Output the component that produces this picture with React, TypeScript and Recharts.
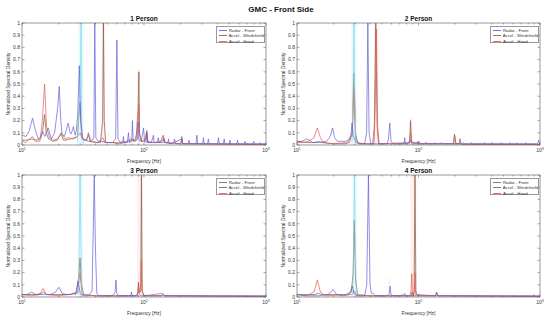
import React from 'react';
import { LineChart, Line, XAxis, YAxis, ReferenceArea } from 'recharts';

type Pt = [number, number];

// log x ticks: majors get labels, minors are just inward marks
const xTicks = [10, 20, 30, 40, 50, 60, 70, 80, 90, 100, 200, 300, 400, 500, 600, 700, 800, 900, 1000];
const xMajor = [10, 100, 1000];
const yTicks = [0, 0.1, 0.2, 0.3, 0.4, 0.5, 0.6, 0.7, 0.8, 0.9, 1];

const seriesNames = ['Radar - Front', 'Accel - Windshield', 'Accel - Hood'];
const panelTitles = ['1 Person', '2 Person', '3 Person', '4 Person'];

// ---- 1 Person ----
const radar1: Pt[] = [
  [10, 0.08], [10.8, 0.07], [11.5, 0.12], [12.2, 0.22], [12.8, 0.13], [13.6, 0.05], [14.3, 0.07], [14.8, 0.11],
  [15.4, 0.07], [16.4, 0.14], [17.4, 0.05], [18.5, 0.1], [19.6, 0.3], [20.2, 0.48], [20.8, 0.2], [21.3, 0.09],
  [22.3, 0.07], [23.9, 0.18], [24.8, 0.1], [25.3, 0.09], [26.4, 0.15], [27.3, 0.08], [27.9, 0.12], [28.6, 0.25],
  [29.5, 0.65], [30.3, 0.2], [31.5, 0.05], [33, 0.04], [35, 0.03], [37, 0.03], [38.8, 0.06], [39.5, 1.0],
  [40.3, 0.06], [42, 0.03], [45, 0.03], [50, 0.02], [55, 0.02], [58.6, 0.05], [59.9, 0.86], [61.2, 0.05],
  [64, 0.02], [67, 0.02], [67.8, 0.07], [68.6, 0.02], [73, 0.02], [74.6, 0.1], [76, 0.02], [79.4, 0.03],
  [80.4, 0.2], [81.5, 0.03], [85, 0.03], [88.5, 0.05], [89.6, 0.19], [90.8, 0.04], [95, 0.03], [99.2, 0.14],
  [101, 0.03], [104, 0.02], [105.5, 0.1], [107, 0.02], [115, 0.02], [119.5, 0.08], [121, 0.02], [129, 0.02],
  [131, 0.06], [133, 0.02], [143, 0.02], [145, 0.05], [147, 0.02], [157, 0.02], [159, 0.05], [161, 0.01],
  [175, 0.02], [178, 0.05], [181, 0.01], [201, 0.01], [204, 0.07], [207, 0.01], [230, 0.01], [234, 0.04],
  [238, 0.01], [267, 0.01], [271, 0.08], [275, 0.01], [303, 0.01], [307, 0.06], [311, 0.01], [332, 0.01],
  [337, 0.05], [342, 0.01], [402, 0.01], [408, 0.06], [414, 0.01], [448, 0.01], [454, 0.05], [460, 0.01],
  [500, 0.01], [506, 0.04], [512, 0.01], [577, 0.01], [584, 0.04], [591, 0.01], [665, 0.01], [674, 0.03],
  [683, 0.01], [782, 0.01], [792, 0.03], [802, 0.01], [885, 0.01], [897, 0.02], [910, 0.01], [1000, 0.01],
];
const wind1: Pt[] = [
  [10, 0.04], [11, 0.04], [12, 0.05], [13, 0.04], [14.2, 0.05], [14.8, 0.12], [15.3, 0.25], [15.8, 0.1],
  [16.5, 0.05], [18, 0.03], [19.5, 0.04], [20.9, 0.1], [21.8, 0.04], [23, 0.04], [25, 0.05], [27, 0.06],
  [28.5, 0.07], [29.8, 0.35], [30.8, 0.08], [32, 0.04], [34, 0.04], [35, 0.1], [36, 0.03], [40, 0.02],
  [44, 0.02], [45.8, 0.2], [46.5, 1.0], [47.2, 0.2], [48.5, 0.02], [55, 0.02], [62, 0.01], [70, 0.02],
  [75, 0.03], [80, 0.04], [86, 0.04], [89.5, 0.3], [90.8, 0.6], [92, 0.1], [95, 0.03], [102, 0.03],
  [105, 0.11], [108, 0.02], [120, 0.02], [135, 0.02], [144, 0.08], [148, 0.02], [170, 0.01], [204, 0.05],
  [208, 0.01], [250, 0.01], [1000, 0.005],
];
const hood1: Pt[] = [
  [10, 0.03], [10.8, 0.02], [11.5, 0.05], [12.2, 0.07], [12.9, 0.03], [14, 0.03], [14.7, 0.2], [15.3, 0.5],
  [15.9, 0.15], [16.8, 0.06], [18, 0.04], [19.5, 0.05], [21, 0.09], [22.5, 0.05], [24, 0.06], [26, 0.05],
  [28, 0.06], [30, 0.1], [31, 0.05], [33, 0.04], [35.5, 0.08], [37, 0.03], [42, 0.02], [46, 0.06],
  [48, 0.02], [60, 0.02], [72, 0.03], [78, 0.05], [84, 0.04], [89, 0.12], [90.5, 0.33], [92, 0.08],
  [96, 0.03], [104, 0.06], [105.5, 0.12], [107, 0.03], [120, 0.02], [140, 0.03], [145, 0.06], [150, 0.02],
  [200, 0.01], [204, 0.05], [208, 0.01], [1000, 0.005],
];
const cyan1: Pt[] = [[28.5, 0.02], [30.2, 0.6], [30.5, 1.0], [30.9, 0.1], [32, 0.01]];

// ---- 2 Person ----
const radar2: Pt[] = [
  [10, 0.03], [11, 0.03], [11.5, 0.04], [12, 0.05], [12.6, 0.04], [13.5, 0.02], [15, 0.02], [17.5, 0.03],
  [18.8, 0.07], [19.6, 0.14], [20.4, 0.06], [21.5, 0.03], [23, 0.03], [25, 0.03], [26.5, 0.04], [27.8, 0.08],
  [28.4, 0.18], [29, 0.08], [30.5, 0.02], [33, 0.01], [36, 0.01], [37.4, 0.1], [38.3, 1.0], [39.2, 0.1],
  [40.5, 0.01], [45, 0.01], [50, 0.01], [55, 0.01], [56.5, 0.04], [58, 0.18], [59.5, 0.03], [62, 0.01],
  [70, 0.01], [76, 0.01], [77, 0.06], [78, 0.01], [84, 0.01], [86, 0.04], [88, 0.01], [97, 0.01],
  [99, 0.03], [101, 0.01], [110, 0.01], [116, 0.02], [118, 0.01], [134, 0.01], [136, 0.02], [138, 0.01],
  [150, 0.01], [153, 0.02], [156, 0.01], [230, 0.01], [234, 0.02], [238, 0.01], [270, 0.01], [273, 0.02],
  [276, 0.01], [345, 0.01], [349, 0.02], [353, 0.01], [400, 0.01], [405, 0.02], [410, 0.01], [475, 0.01],
  [480, 0.02], [485, 0.01], [560, 0.01], [565, 0.02], [570, 0.01], [640, 0.01], [645, 0.02], [650, 0.01],
  [760, 0.01], [765, 0.02], [770, 0.01], [960, 0.01], [975, 0.04], [990, 0.01], [1000, 0.01],
];
const wind2: Pt[] = [
  [10, 0.03], [12, 0.02], [14, 0.02], [15, 0.03], [16, 0.02], [20, 0.01], [25, 0.01], [27, 0.02],
  [28.5, 0.1], [29.4, 0.59], [30.3, 0.1], [31.5, 0.02], [35, 0.01], [42, 0.01], [43.3, 0.15], [44.5, 1.0],
  [45.7, 0.15], [47, 0.01], [60, 0.01], [80, 0.01], [84.5, 0.03], [86, 0.2], [87.5, 0.03], [95, 0.01],
  [150, 0.01], [193, 0.01], [198, 0.09], [203, 0.01], [216, 0.01], [220, 0.05], [224, 0.005], [1000, 0.005],
];
const hood2: Pt[] = [
  [10, 0.02], [11, 0.02], [12.5, 0.03], [13.8, 0.06], [14.7, 0.14], [15.6, 0.06], [16.5, 0.02], [20, 0.01],
  [26, 0.02], [28.5, 0.08], [29.4, 0.47], [30.3, 0.06], [32, 0.01], [43, 0.01], [44, 0.3], [45, 0.95],
  [46, 0.15], [47.5, 0.01], [84.5, 0.02], [86.3, 0.1], [88, 0.02], [100, 0.02], [101.5, 0.03], [103, 0.01],
  [195, 0.01], [199, 0.07], [203, 0.01], [1000, 0.005],
];
const cyan2: Pt[] = [[28.4, 0.02], [29.1, 0.6], [29.4, 1.0], [29.8, 0.5], [30.5, 0.02]];

// ---- 3 Person ----
const radar3: Pt[] = [
  [10, 0.02], [11, 0.02], [12, 0.04], [13, 0.02], [15, 0.02], [17, 0.02], [18.8, 0.04], [20.1, 0.08],
  [21.3, 0.03], [23, 0.02], [25, 0.02], [26.5, 0.03], [27.5, 0.02], [28.8, 0.13], [30, 0.03], [31.5, 0.01],
  [35, 0.01], [37.5, 0.05], [38.3, 0.5], [39.1, 1.0], [40, 0.4], [41, 0.03], [43, 0.01], [50, 0.01],
  [55, 0.01], [58, 0.04], [58.9, 0.14], [59.8, 0.03], [62, 0.01], [70, 0.01], [78, 0.01], [79, 0.04],
  [80, 0.01], [90, 0.01], [92, 0.02], [94, 0.01], [140, 0.01], [143, 0.02], [146, 0.01], [1000, 0.01],
];
const wind3: Pt[] = [
  [10, 0.02], [13, 0.02], [14.5, 0.03], [15, 0.04], [16, 0.02], [20, 0.02], [25, 0.02], [28, 0.04],
  [29, 0.15], [29.9, 0.32], [30.8, 0.1], [32, 0.02], [40, 0.01], [60, 0.01], [85, 0.01], [89, 0.03],
  [90, 0.12], [91, 0.03], [94, 0.05], [95.3, 1.0], [96.6, 0.05], [100, 0.01], [140, 0.01], [143, 0.02],
  [146, 0.01], [1000, 0.005],
];
const hood3: Pt[] = [
  [10, 0.02], [12, 0.01], [14, 0.02], [14.9, 0.07], [15.8, 0.02], [20, 0.01], [28.5, 0.03], [29.9, 0.2],
  [31, 0.02], [40, 0.01], [88, 0.01], [89.5, 0.05], [90.3, 0.12], [91.2, 0.03], [94.5, 0.1], [95.3, 0.3],
  [96.2, 0.05], [100, 0.01], [143, 0.03], [146, 0.01], [1000, 0.005],
];
const cyan3: Pt[] = [[29, 0.02], [29.6, 0.6], [29.9, 1.0], [30.3, 0.5], [31, 0.02]];

// ---- 4 Person ----
const radar4: Pt[] = [
  [10, 0.02], [12, 0.01], [15, 0.01], [18, 0.02], [19.9, 0.06], [21.2, 0.02], [24, 0.01], [27, 0.02],
  [28.5, 0.09], [29.5, 0.03], [31, 0.01], [36, 0.01], [37.5, 0.1], [38.7, 1.0], [39.9, 0.1], [41, 0.03],
  [42.5, 0.03], [44, 0.01], [55, 0.01], [57.5, 0.03], [58.4, 0.09], [59.3, 0.02], [62, 0.01], [72, 0.01],
  [73, 0.02], [75, 0.01], [77, 0.03], [78, 0.01], [85, 0.01], [100, 0.01], [102, 0.02], [104, 0.01],
  [140, 0.01], [142, 0.02], [144, 0.01], [880, 0.01], [890, 0.02], [900, 0.01], [1000, 0.01],
];
const wind4: Pt[] = [
  [10, 0.02], [12, 0.02], [14, 0.02], [15, 0.03], [16, 0.02], [20, 0.02], [25, 0.02], [28, 0.04],
  [29, 0.2], [29.6, 0.63], [30.3, 0.15], [31.5, 0.02], [40, 0.01], [60, 0.01], [87, 0.01], [88.5, 0.04],
  [90, 0.01], [92, 0.05], [93.6, 1.0], [95.2, 0.05], [98, 0.01], [138, 0.01], [141, 0.04], [144, 0.01],
  [1000, 0.005],
];
const hood4: Pt[] = [
  [10, 0.02], [12, 0.01], [13.8, 0.04], [14.7, 0.14], [15.6, 0.04], [17, 0.01], [28.5, 0.02], [29.6, 0.05],
  [31, 0.01], [85, 0.01], [87, 0.06], [88, 0.19], [89, 0.05], [91, 0.01], [92.5, 0.05], [93.6, 0.2],
  [94.7, 0.02], [138, 0.01], [141, 0.04], [144, 0.01], [1000, 0.005],
];
const cyan4: Pt[] = [[28.8, 0.02], [29.4, 0.6], [29.7, 1.0], [30.1, 0.5], [30.8, 0.02]];

// faint colour fringes around the tallest peaks: [from Hz, to Hz, top, colour]
const bands1: [number, number, number, string][] = [[29, 32, 1, '#d6f6fb'], [45, 48, 1, '#fbe4ea'], [88, 93, 0.62, '#fbe4ea']];
const bands2: [number, number, number, string][] = [[28, 31, 1, '#d6f6fb'], [43, 47, 1, '#fbe4ea'], [84, 89, 0.22, '#fbe4ea']];
const bands3: [number, number, number, string][] = [[29, 31.5, 1, '#d6f6fb'], [88, 98, 1, '#fbe4ea']];
const bands4: [number, number, number, string][] = [[28.8, 31, 1, '#d6f6fb'], [86, 96, 1, '#fbe4ea'], [56, 59, 0.15, '#dcf6fa']];

const COLORS = { radar: '#5a5ad8', wind: '#8a5a38', hood: '#e0574f', cyan: '#86d8ea' };
const AXIS = '#555';
const FONT = 'Arial, "Liberation Sans", Helvetica, sans-serif';

const toRows = (pts: Pt[]) => pts.map(([f, v]) => ({ f, v }));

const supDigit: Record<number, string> = { 10: '1', 100: '2', 1000: '3' };

function BottomTick(props: any) {
  const { x, y, payload } = props;
  const major = xMajor.includes(payload.value);
  return (
    <g>
      <line x1={x} x2={x} y1={y} y2={y - (major ? 2.5 : 1.5)} stroke={AXIS} strokeWidth={0.5} />
      {major && (
        <text x={x} y={y + 7} textAnchor="middle" fontSize={5} fill="#333" fontFamily={FONT}>
          <tspan>10</tspan>
          <tspan dy={-2.5} fontSize={3.5}>{supDigit[payload.value]}</tspan>
        </text>
      )}
    </g>
  );
}

function TopTick(props: any) {
  const { x, y, payload } = props;
  const major = xMajor.includes(payload.value);
  return <line x1={x} x2={x} y1={y} y2={y + (major ? 2.5 : 1.5)} stroke={AXIS} strokeWidth={0.5} />;
}

function LeftTick(props: any) {
  const { x, y, payload } = props;
  return (
    <g>
      <line x1={x} x2={x + 2.5} y1={y} y2={y} stroke={AXIS} strokeWidth={0.5} />
      <text x={x - 2} y={y + 1.7} textAnchor="end" fontSize={5} fill="#333" fontFamily={FONT}>
        {String(payload.value)}
      </text>
    </g>
  );
}

function RightTick(props: any) {
  const { x, y } = props;
  return <line x1={x} x2={x - 2.5} y1={y} y2={y} stroke={AXIS} strokeWidth={0.5} />;
}

interface PanelProps {
  left: number;
  top: number;
  height: number;
  plotTop: number;
  plotBottom: number;
  right: number;
  title: string;
  radar: Pt[];
  wind: Pt[];
  hood: Pt[];
  cyan: Pt[];
  bands: [number, number, number, string][];
}

function Panel({ left, top, height, plotTop, plotBottom, right, title, radar, wind, hood, cyan, bands }: PanelProps) {
  const width = 275;
  const plotL = 22;
  const plotR = width - right;
  const cx = (plotL + plotR) / 2;
  const cy = (plotTop + plotBottom) / 2;
  // axes take 1px each so that they are drawn; margins absorb it
  const margin = { top: plotTop - 1, right: right - 1, bottom: height - plotBottom - 1, left: plotL - 1 };
  const line = (data: Pt[], color: string, w: number, op = 1) => (
    <Line
      data={toRows(data)}
      dataKey="v"
      type="linear"
      stroke={color}
      strokeWidth={w}
      strokeOpacity={op}
      dot={false}
      activeDot={false}
      isAnimationActive={false}
    />
  );
  return (
    <div style={{ position: 'absolute', left, top, width, height }}>
      <LineChart width={width} height={height} margin={margin}>
        <XAxis
          dataKey="f"
          type="number"
          scale="log"
          domain={[10, 1000]}
          allowDataOverflow
          ticks={xTicks}
          interval={0}
          tick={<BottomTick />}
          tickSize={0}
          tickMargin={0}
          height={1}
          stroke={AXIS}
          strokeWidth={0.6}
        />
        <XAxis
          xAxisId="top"
          orientation="top"
          dataKey="f"
          type="number"
          scale="log"
          domain={[10, 1000]}
          allowDataOverflow
          ticks={xTicks}
          interval={0}
          tick={<TopTick />}
          tickSize={0}
          tickMargin={0}
          height={1}
          stroke={AXIS}
          strokeWidth={0.6}
        />
        <YAxis
          type="number"
          domain={[0, 1]}
          allowDataOverflow
          ticks={yTicks}
          interval={0}
          tick={<LeftTick />}
          tickSize={0}
          tickMargin={0}
          width={1}
          stroke={AXIS}
          strokeWidth={0.6}
        />
        <YAxis
          yAxisId="right"
          orientation="right"
          type="number"
          domain={[0, 1]}
          allowDataOverflow
          ticks={yTicks}
          interval={0}
          tick={<RightTick />}
          tickSize={0}
          tickMargin={0}
          width={1}
          stroke={AXIS}
          strokeWidth={0.6}
        />
        {bands.map(([a, b, h, c], i) => (
          <ReferenceArea key={i} x1={a} x2={b} y1={0} y2={h} fill={c} fillOpacity={0.6} stroke="none" ifOverflow="hidden" />
        ))}
        {line(wind, COLORS.wind, 0.8, 0.9)}
        {line(hood, COLORS.hood, 0.8, 0.85)}
        {line(cyan, COLORS.cyan, 0.8, 0.9)}
        {line(radar, COLORS.radar, 0.8, 0.85)}
      </LineChart>

      <div style={{ position: 'absolute', left: cx - 40, width: 80, top: plotTop - 8, textAlign: 'center', fontSize: 6.5, fontWeight: 'bold', color: '#111', fontFamily: FONT, lineHeight: '7px' }}>
        {title}
      </div>
      <div style={{ position: 'absolute', left: cx - 40, width: 80, top: plotBottom + 12.5, textAlign: 'center', fontSize: 5, color: '#333', fontFamily: FONT, lineHeight: '6px' }}>
        Frequency [Hz]
      </div>
      <div
        style={{
          position: 'absolute',
          left: 7.5 - 50,
          top: cy - 3,
          width: 100,
          textAlign: 'center',
          fontSize: 5,
          color: '#333',
          fontFamily: FONT,
          lineHeight: '6px',
          transform: 'rotate(-90deg)',
        }}
      >
        Normalized Spectral Density
      </div>

      <div
        style={{
          position: 'absolute',
          left: plotR - 50,
          top: plotTop + 3,
          width: 49,
          height: 17,
          border: '0.5px solid #999',
          background: '#fff',
          boxSizing: 'border-box',
          fontFamily: FONT,
          fontSize: 4.3,
          color: '#333',
          paddingTop: 1,
        }}
      >
        {seriesNames.map((n, i) => (
          <div key={n} style={{ display: 'flex', alignItems: 'center', height: 5.3 }}>
            <span
              style={{
                display: 'inline-block',
                marginLeft: 2,
                width: 8,
                height: 0,
                borderTop: `0.7px solid ${[COLORS.radar, COLORS.wind, COLORS.hood][i]}`,
                opacity: 0.85,
              }}
            />
            <span style={{ marginLeft: 2, whiteSpace: 'nowrap', lineHeight: '5px' }}>{n}</span>
          </div>
        ))}
      </div>
    </div>
  );
}

export default function App() {
  return (
    <div style={{ position: 'fixed', left: 0, top: 0, width: 550, height: 322, background: '#fff', overflow: 'hidden' }}>
      <div
        style={{
          position: 'absolute',
          left: 231,
          width: 100,
          top: 5,
          textAlign: 'center',
          fontSize: 8,
          fontWeight: 'bold',
          fontFamily: FONT,
          color: '#111',
          lineHeight: '9px',
        }}
      >
        GMC - Front Side
      </div>
      <Panel left={0} top={0} height={160} plotTop={23} plotBottom={145} right={9} title={panelTitles[0]} radar={radar1} wind={wind1} hood={hood1} cyan={cyan1} bands={bands1} />
      <Panel left={275} top={0} height={160} plotTop={23} plotBottom={145} right={10} title={panelTitles[1]} radar={radar2} wind={wind2} hood={hood2} cyan={cyan2} bands={bands2} />
      <Panel left={0} top={160} height={162} plotTop={15} plotBottom={137} right={9} title={panelTitles[2]} radar={radar3} wind={wind3} hood={hood3} cyan={cyan3} bands={bands3} />
      <Panel left={275} top={160} height={162} plotTop={15} plotBottom={137} right={10} title={panelTitles[3]} radar={radar4} wind={wind4} hood={hood4} cyan={cyan4} bands={bands4} />
    </div>
  );
}
